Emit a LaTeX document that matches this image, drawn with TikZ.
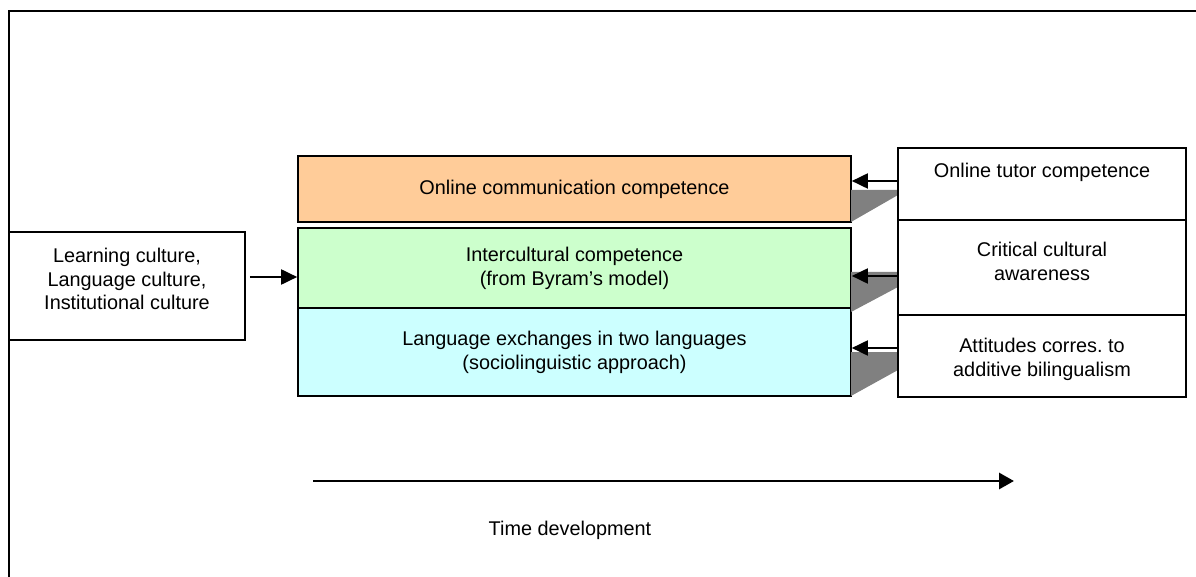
\documentclass[tikz,border=0pt]{standalone}
\usepackage{fontspec}
\setmainfont{Liberation Sans}
\usetikzlibrary{arrows.meta,calc}
\definecolor{peach}{RGB}{255,204,153}
\definecolor{mint}{RGB}{204,255,204}
\definecolor{ice}{RGB}{204,255,255}
\definecolor{shade}{RGB}{128,128,128}
\newcommand{\txtfont}{\fontsize{11.3}{13.6}\selectfont}
\tikzset{
  layer/.style ={draw,rectangle,line width=1pt,minimum width=11.06cm,
                 align=center,font=\txtfont,inner sep=0pt},
  side/.style  ={draw,rectangle,fill=white,line width=1pt,minimum width=5.76cm},
  lbl/.style   ={font=\txtfont,align=center,inner sep=0pt},
  line/.style  ={-{Triangle[length=0.32cm,width=0.3cm]},line width=1.1pt},
  tline/.style ={-{Triangle[length=0.3cm,width=0.32cm]},line width=1.7pt},
  shadow/.style={fill=shade}
}

\begin{document}
\begin{tikzpicture}[x=0.02cm,y=-0.02cm]
\useasboundingbox (0,0) rectangle (1196,577);

% frame (top and left only)
\draw[line width=1pt] (1196,11) -- (9,11) -- (9,577);

% competence layers
\node[layer,fill=peach,minimum height=1.32cm] (online) at (574.5,189)
      {Online communication competence};
\node[layer,fill=mint,minimum height=1.6cm]   (inter)  at (574.5,268)
      {Intercultural competence\\(from Byram's model)};
\node[layer,fill=ice,minimum height=1.76cm]   (lang)   at (574.5,352)
      {Language exchanges in two languages\\(sociolinguistic approach)};

% culture box
\node[draw,rectangle,line width=1pt,minimum width=4.72cm,minimum height=2.16cm]
      (cult) at (127,286) {};
\node[lbl] (culttxt) at (127,279)
      {Learning culture,\\Language culture,\\Institutional culture};

% shadows behind the side arrows
\fill[shadow] (851,190) -- (898,190) -- (898,195) -- (851,222) -- cycle;
\fill[shadow] (851,272) -- (898,272) -- (898,287) -- (851,312) -- cycle;
\fill[shadow] (851,352) -- (898,352) -- (898,370) -- (851,396) -- cycle;

% side boxes
\node[side,minimum height=1.44cm] (tutor)  at (1042,184)   {};
\node[side,minimum height=1.9cm]  (crit)   at (1042,267.5) {};
\node[side,minimum height=1.64cm] (attit)  at (1042,356)   {};
\node[lbl] (tutortxt) at (1042,172) {Online tutor competence};
\node[lbl] (crittxt)  at (1042,261) {Critical cultural\\awareness};
\node[lbl] (attittxt) at (1042,359) {Attitudes corres.\ to\\additive bilingualism};

% arrows into the layers
\draw[line] (tutor.west |- 0,181) -- (online.east |- 0,181);
\draw[line] (crit.west |- 0,276)  -- (inter.east |- 0,276);
\draw[line] (attit.west |- 0,348) -- (lang.east |- 0,348);
\draw[line] ($(cult.east)+(4,-9)$) -- (inter.west |- 0,277);

% time axis
\coordinate (t0) at (313,481);
\coordinate (t1) at (1014,481);
\draw[tline] (t0) -- (t1);
\node[lbl] (time) at (570,530) {Time development};
\end{tikzpicture}
\end{document}
